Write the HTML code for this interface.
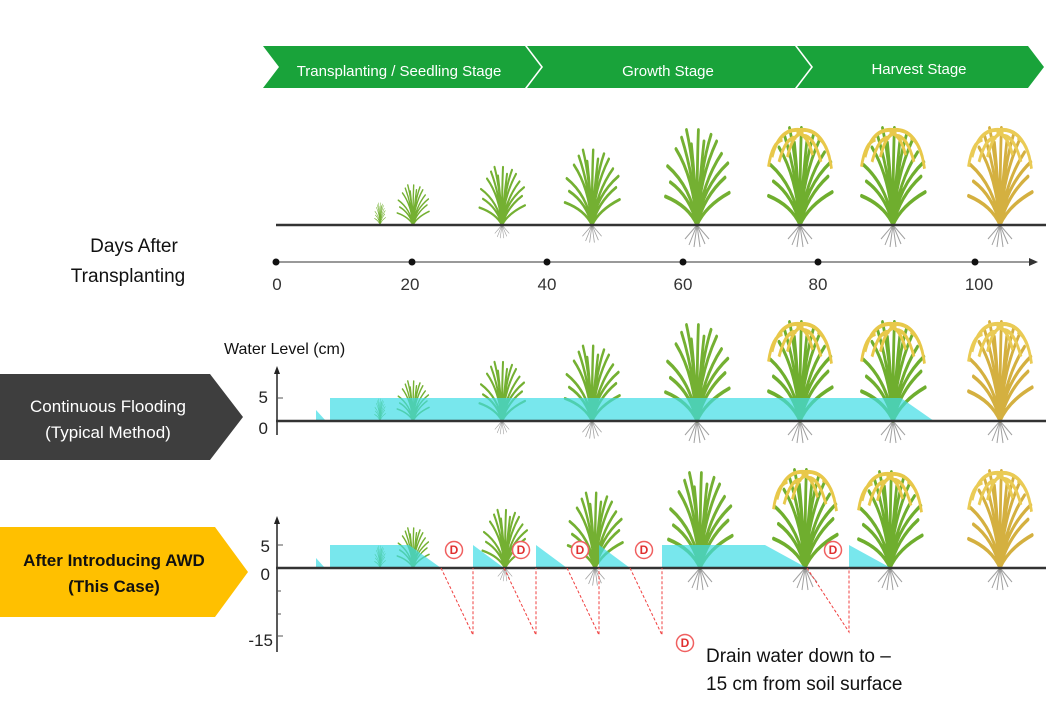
<!DOCTYPE html>
<html><head><meta charset="utf-8"><style>
body{margin:0;background:#fff;}
svg{display:block;font-family:"Liberation Sans",sans-serif;}
</style></head><body>
<svg width="1046" height="708" viewBox="0 0 1046 708" xmlns="http://www.w3.org/2000/svg">
<defs>
<g id="roots" stroke="#777" stroke-width="1" fill="none" opacity="0.7">
<path d="M0 0 L-8 20 M0 0 L-3 22 M0 0 L3 22 M0 0 L8 19 M0 0 L-12 14 M0 0 L12 14"/>
</g>
<g id="leaves" fill="none" stroke-linecap="round">
<path d="M0 0 Q-5 -50 -30 -80 M0 0 Q-3 -60 -15 -100 M0 0 Q0 -60 2 -100 M0 0 Q5 -60 20 -95 M0 0 Q8 -45 35 -75 M0 0 Q-10 -30 -38 -45 M0 0 Q10 -30 40 -50 M0 0 Q-2 -40 -8 -85 M0 0 Q3 -40 10 -88 M0 0 Q-8 -40 -42 -62 M0 0 Q8 -40 44 -65 M0 0 Q-4 -50 -22 -92 M0 0 Q4 -50 28 -88 M0 0 Q-12 -20 -45 -30 M0 0 Q12 -20 46 -34"/>
</g>
<g id="g"><use href="#leaves" stroke="#74b032" stroke-width="4"/></g>
<g id="m"><use href="#leaves" stroke="#6fae2e" stroke-width="4"/>
<path d="M-40 -70 Q-30 -100 0 -98 Q30 -100 42 -70 M-30 -65 Q-20 -92 -5 -90 M30 -65 Q20 -92 5 -92 M-45 -60 Q-40 -85 -25 -88 M45 -58 Q40 -85 25 -90 M-18 -70 Q-10 -95 5 -95 M18 -72 Q10 -95 -5 -95" fill="none" stroke="#e8c84a" stroke-width="4"/></g>
<g id="h"><use href="#leaves" stroke="#d4b040" stroke-width="4"/>
<path d="M-40 -70 Q-30 -100 0 -98 Q30 -100 42 -70 M-30 -65 Q-20 -92 -5 -90 M30 -65 Q20 -92 5 -92 M-45 -60 Q-40 -85 -25 -88 M45 -58 Q40 -85 25 -90 M-18 -70 Q-10 -95 5 -95 M18 -72 Q10 -95 -5 -95" fill="none" stroke="#eacb55" stroke-width="4"/></g>
</defs>

<polygon points="263,46 525,46 541,67 525,88 263,88 279,67" fill="#19a33a"/>
<polygon points="527,46 795,46 811,67 795,88 527,88 543,67" fill="#19a33a"/>
<polygon points="797,46 1028,46 1044,67 1028,88 797,88 813,67" fill="#19a33a"/>
<text x="399" y="76" fill="#fff" font-size="15" text-anchor="middle">Transplanting / Seedling Stage</text>
<text x="668" y="76" fill="#fff" font-size="15" text-anchor="middle">Growth Stage</text>
<text x="919" y="74" fill="#fff" font-size="15" text-anchor="middle">Harvest Stage</text>

<g>
<use href="#g" transform="translate(380,225) scale(0.12,0.22)"/>
<use href="#g" transform="translate(413,225) scale(0.35,0.4)"/>
<use href="#g" transform="translate(502,225) scale(0.5,0.58)"/>
<use href="#g" transform="translate(592,225) scale(0.6,0.75)"/>
<use href="#g" transform="translate(697,225) scale(0.7,0.95)"/>
<use href="#m" transform="translate(800,225) scale(0.7,0.97)"/>
<use href="#m" transform="translate(893,225) scale(0.7,0.97)"/>
<use href="#h" transform="translate(1000,225) scale(0.7,0.97)"/>
<use href="#roots" transform="translate(502,225) scale(0.6)"/>
<use href="#roots" transform="translate(592,225) scale(0.8)"/>
<use href="#roots" transform="translate(697,225)"/>
<use href="#roots" transform="translate(800,225)"/>
<use href="#roots" transform="translate(893,225)"/>
<use href="#roots" transform="translate(1000,225)"/>
</g>
<line x1="276" y1="225" x2="1046" y2="225" stroke="#333" stroke-width="2.5"/>

<text x="134" y="252" font-size="19" text-anchor="middle" fill="#111">Days After</text>
<text x="128" y="282" font-size="19" text-anchor="middle" fill="#111">Transplanting</text>

<line x1="276" y1="262" x2="1030" y2="262" stroke="#333" stroke-width="1"/>
<polygon points="1038,262 1029,258 1029,266" fill="#333"/>
<g fill="#111"><circle cx="276" cy="262" r="3.5"/><circle cx="412" cy="262" r="3.5"/><circle cx="547" cy="262" r="3.5"/><circle cx="683" cy="262" r="3.5"/><circle cx="818" cy="262" r="3.5"/><circle cx="975" cy="262" r="3.5"/></g>
<g font-size="17" fill="#333" text-anchor="middle">
<text x="277" y="290">0</text><text x="410" y="290">20</text><text x="547" y="290">40</text><text x="683" y="290">60</text><text x="818" y="290">80</text><text x="979" y="290">100</text></g>

<text x="224" y="354" font-size="16" fill="#111">Water Level (cm)</text>
<polygon points="0,374 210,374 243,417 210,460 0,460" fill="#3e3e3e"/>
<text x="108" y="412" font-size="17" fill="#fff" text-anchor="middle">Continuous Flooding</text>
<text x="108" y="438" font-size="17" fill="#fff" text-anchor="middle">(Typical Method)</text>
<line x1="277" y1="372" x2="277" y2="435" stroke="#222" stroke-width="1.5"/>
<polygon points="277,366 274,374 280,374" fill="#222"/>
<line x1="277" y1="398" x2="283" y2="398" stroke="#555"/>
<text x="268" y="403" font-size="17" fill="#222" text-anchor="end">5</text>
<text x="268" y="434" font-size="17" fill="#222" text-anchor="end">0</text>
<g>
<use href="#g" transform="translate(380,421) scale(0.12,0.22)"/>
<use href="#g" transform="translate(413,421) scale(0.35,0.4)"/>
<use href="#g" transform="translate(502,421) scale(0.5,0.59)"/>
<use href="#g" transform="translate(592,421) scale(0.6,0.75)"/>
<use href="#g" transform="translate(697,421) scale(0.7,0.96)"/>
<use href="#m" transform="translate(800,421) scale(0.7,0.99)"/>
<use href="#m" transform="translate(893,421) scale(0.7,0.99)"/>
<use href="#h" transform="translate(1000,421) scale(0.7,0.99)"/>
<use href="#roots" transform="translate(502,421) scale(0.6)"/>
<use href="#roots" transform="translate(592,421) scale(0.8)"/>
<use href="#roots" transform="translate(697,421)"/>
<use href="#roots" transform="translate(800,421)"/>
<use href="#roots" transform="translate(893,421)"/>
<use href="#roots" transform="translate(1000,421)"/>
</g>
<polygon points="316,410 326,421 316,421" fill="#3fdde6" opacity="0.7"/>
<polygon points="330,398 901,398 934,421 330,421" fill="#3fdde6" opacity="0.7"/>
<line x1="276" y1="421" x2="1046" y2="421" stroke="#333" stroke-width="2.5"/>

<polygon points="0,527 215,527 248,572 215,617 0,617" fill="#ffc000"/>
<text x="114" y="566" font-size="17" font-weight="bold" fill="#111" text-anchor="middle">After Introducing AWD</text>
<text x="114" y="592" font-size="17" font-weight="bold" fill="#111" text-anchor="middle">(This Case)</text>
<line x1="277" y1="522" x2="277" y2="652" stroke="#222" stroke-width="1.5"/>
<polygon points="277,516 274,524 280,524" fill="#222"/>
<g stroke="#555"><line x1="277" y1="545" x2="283" y2="545"/><line x1="277" y1="591" x2="281" y2="591"/><line x1="277" y1="614" x2="281" y2="614"/><line x1="277" y1="636" x2="283" y2="636"/></g>
<text x="270" y="552" font-size="17" fill="#222" text-anchor="end">5</text>
<text x="270" y="580" font-size="17" fill="#222" text-anchor="end">0</text>
<text x="273" y="646" font-size="17" fill="#222" text-anchor="end">-15</text>
<g>
<use href="#g" transform="translate(380,568) scale(0.12,0.22)"/>
<use href="#g" transform="translate(413,568) scale(0.35,0.4)"/>
<use href="#g" transform="translate(505,568) scale(0.5,0.58)"/>
<use href="#g" transform="translate(595,568) scale(0.6,0.75)"/>
<use href="#g" transform="translate(700,568) scale(0.7,0.95)"/>
<use href="#m" transform="translate(805,568) scale(0.7,0.98)"/>
<use href="#m" transform="translate(890,568) scale(0.7,0.96)"/>
<use href="#h" transform="translate(1000,568) scale(0.7,0.97)"/>
<use href="#roots" transform="translate(505,568) scale(0.6)"/>
<use href="#roots" transform="translate(595,568) scale(0.8)"/>
<use href="#roots" transform="translate(700,568)"/>
<use href="#roots" transform="translate(805,568)"/>
<use href="#roots" transform="translate(890,568)"/>
<use href="#roots" transform="translate(1000,568)"/>
</g>
<g fill="#3fdde6" opacity="0.7">
<polygon points="316,558 325,568 316,568"/>
<polygon points="330,545 409,545 441,568 330,568"/>
<polygon points="473,545 504,568 473,568"/>
<polygon points="536,545 567,568 536,568"/>
<polygon points="599,545 630,568 599,568"/>
<polygon points="662,545 765,545 807,568 662,568"/>
<polygon points="849,545 891,568 849,568"/>
</g>
<line x1="276" y1="568" x2="1046" y2="568" stroke="#333" stroke-width="2.5"/>
<g stroke="#f04040" stroke-width="1" stroke-dasharray="3,2" fill="none">
<path d="M441 568 L473 635 L473 568"/>
<path d="M504 568 L536 635 L536 568"/>
<path d="M567 568 L599 635 L599 568"/>
<path d="M630 568 L662 635 L662 568"/>
<path d="M807 568 L849 632 L849 568"/>
</g>
<g font-size="12" font-weight="bold" fill="#e03030" text-anchor="middle">
<g fill="#fff" stroke="#f06060" stroke-width="1.5"><circle cx="454" cy="550" r="8.5"/><circle cx="521" cy="550" r="8.5"/><circle cx="580" cy="550" r="8.5"/><circle cx="644" cy="550" r="8.5"/><circle cx="833" cy="550" r="8.5"/><circle cx="685" cy="643" r="8.5"/></g>
<text x="454" y="554">D</text><text x="521" y="554">D</text><text x="580" y="554">D</text><text x="644" y="554">D</text><text x="833" y="554">D</text><text x="685" y="647">D</text>
</g>
<text x="706" y="662" font-size="19" fill="#111">Drain water down to –</text>
<text x="706" y="690" font-size="19" fill="#111">15 cm from soil surface</text>
</svg>
</body></html>
